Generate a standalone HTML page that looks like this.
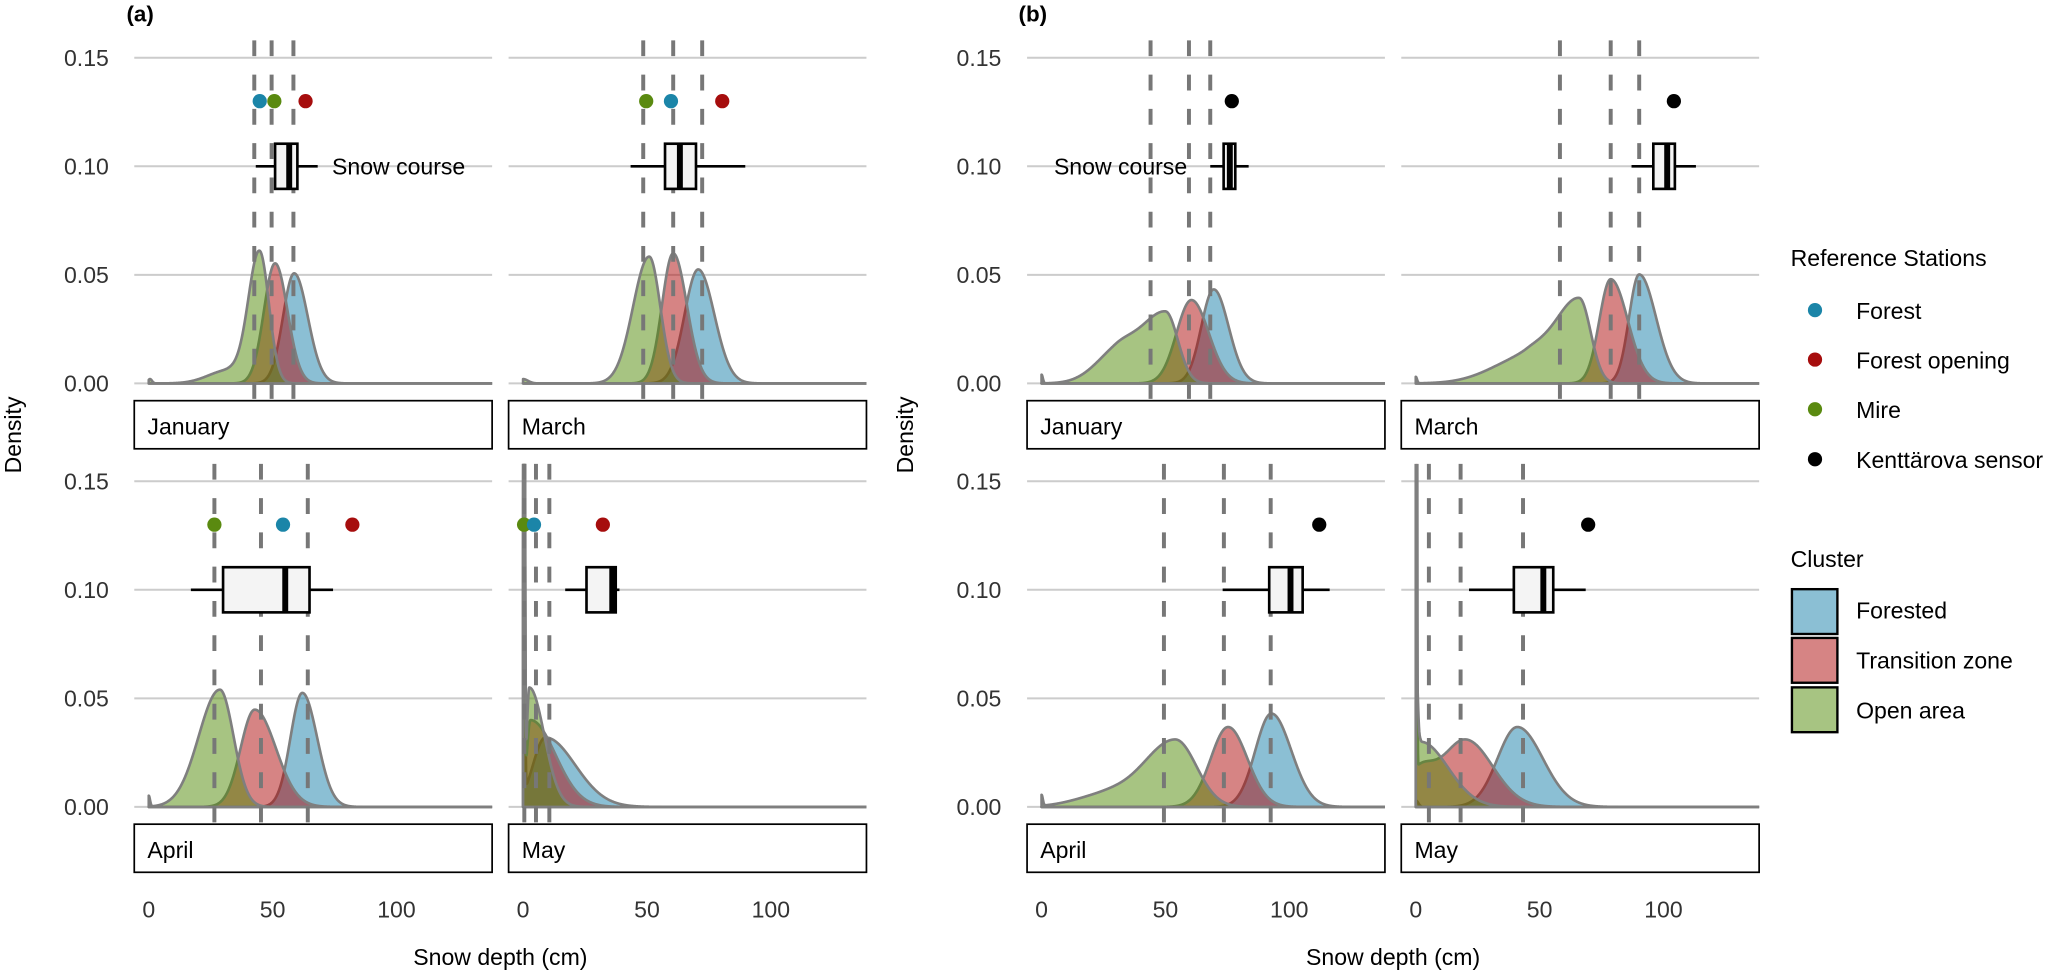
<!DOCTYPE html>
<html>
<head>
<meta charset="utf-8">
<style>
html,body{margin:0;padding:0;background:#fff;}
svg{display:block;font-family:"Liberation Sans",Arial,sans-serif;}
</style>
</head>
<body>
<svg id="chart" xmlns="http://www.w3.org/2000/svg" width="2066" height="978" viewBox="0 0 1568 742" preserveAspectRatio="none">
  <defs id="defs"></defs>
  <text x="96" y="16.5" font-size="17" font-weight="bold" fill="#000">(a)</text>
  <text x="773" y="16.5" font-size="17" font-weight="bold" fill="#000">(b)</text>
  <g id="plots"></g>
  <g id="legend">
    <text x="1359" y="202" font-size="17.5" fill="#000">Reference Stations</text>
    <circle cx="1377.5" cy="235.3" r="5.4" fill="#1b85a8"/>
    <text x="1408.7" y="242" font-size="17.5" fill="#000">Forest</text>
    <circle cx="1377.5" cy="272.8" r="5.4" fill="#a60d0d"/>
    <text x="1408.7" y="279.5" font-size="17.5" fill="#000">Forest opening</text>
    <circle cx="1377.5" cy="310.5" r="5.4" fill="#5a8a10"/>
    <text x="1408.7" y="317.2" font-size="17.5" fill="#000">Mire</text>
    <circle cx="1377.5" cy="348.4" r="5.4" fill="#000"/>
    <text x="1408.7" y="355.1" font-size="17.5" fill="#000">Kenttärova sensor</text>
    <text x="1359" y="430" font-size="17.5" fill="#000">Cluster</text>
    <rect x="1360" y="447" width="34.5" height="34" fill="#1780aa" fill-opacity="0.5" stroke="#000" stroke-width="1.8"/>
    <text x="1408.7" y="469.3" font-size="17.5" fill="#000">Forested</text>
    <rect x="1360" y="484" width="34.5" height="34" fill="#ad0a0a" fill-opacity="0.5" stroke="#000" stroke-width="1.8"/>
    <text x="1408.7" y="507.3" font-size="17.5" fill="#000">Transition zone</text>
    <rect x="1360" y="521.5" width="34.5" height="34" fill="#4f8a05" fill-opacity="0.5" stroke="#000" stroke-width="1.8"/>
    <text x="1408.7" y="545.2" font-size="17.5" fill="#000">Open area</text>
  </g>
</svg>
<script>
// ---------- data ----------
const months = ['January', 'March', 'April', 'May'];
const xTicks = [0, 50, 100];
const yTicks = [0, 0.05, 0.10, 0.15];
const yTickLabels = ['0.00', '0.05', '0.10', '0.15'];

// density components per month: [mode (cm), peak density, sd left, sd right]
const aForested = [
  [[58.7, 0.0507, 4.5, 5.5]],
  [[70.7, 0.0525, 5.5, 6.5]],
  [[62, 0.0525, 4.8, 6]],
  [[0.4, 0.25, 0.3, 0.3], [9, 0.032, 5, 12]]
];
const aTransition = [
  [[51, 0.0553, 4.5, 5]],
  [[60.6, 0.0599, 4.5, 5.5]],
  [[42.8, 0.0448, 5.7, 8.5]],
  [[0.4, 0.3, 0.3, 0.3], [3, 0.04, 1.5, 10]]
];
const aOpen = [
  [[44.7, 0.0605, 4.5, 3.8], [32, 0.006, 8, 6], [0.5, 0.002, 0.8, 0.8]],
  [[50.9, 0.0584, 6.5, 4.5], [0, 0.002, 2, 2]],
  [[28.7, 0.054, 8.5, 5.5], [0, 0.005, 0.5, 0.5]],
  [[0.4, 0.4, 0.3, 0.3], [2.5, 0.055, 1, 6]]
];
const bForested = [
  [[69.5, 0.0433, 5, 6]],
  [[90.2, 0.0502, 4.1, 6.8]],
  [[92.8, 0.043, 6.5, 8]],
  [[41, 0.0368, 8, 10.3], [0, 0.003, 1, 1]]
];
const bTransition = [
  [[60.5, 0.0384, 6, 7]],
  [[78.7, 0.048, 4.6, 6.9]],
  [[75.3, 0.0368, 7, 7.8]],
  [[0.3, 0.5, 0.2, 0.2], [1, 0.015, 2, 6], [20, 0.031, 9.6, 11]]
];
const bOpen = [
  [[50, 0.033, 11, 5], [30, 0.012, 9, 7], [0, 0.004, 0.5, 0.5]],
  [[66, 0.039, 10, 4.6], [45, 0.012, 14, 8], [0, 0.003, 0.5, 0.5]],
  [[54, 0.031, 13, 8.5], [25, 0.005, 12, 10], [0, 0.005, 0.5, 0.5]],
  [[0.3, 0.053, 0.5, 0.6], [2, 0.03, 1, 11]]
];
// cluster means (dashed lines)
const aMeans = [[42.6, 49.6, 58.4], [48.5, 60.6, 72.3], [26.5, 45.3, 64.2], [0.5, 5.2, 10.6]];
const bMeans = [[44, 59.5, 68.1], [58.2, 78.7, 90.2], [49.4, 73.6, 92.5], [5.3, 18.1, 43.3]];
// reference stations
const aMireDot = [50.7, 49.7, 26.5, 0.4];
const aForestDot = [44.8, 59.7, 54.2, 4.4];
const aOpeningDot = [63.3, 80.4, 82.2, 32.2];
const bSensorDot = [76.8, 104.2, 112.1, 69.6];
// snow course boxplots: [min, q1, median, q3, max]
const aBox = [[43.2, 51, 56.7, 60, 68.2], [43.4, 57.3, 63.3, 69.8, 89.7], [17, 30, 55.1, 64.9, 74.4], [17, 25.6, 36, 37.4, 38.9]];
const bBox = [[68.1, 73.5, 76, 78.2, 83.6], [87.1, 95.9, 101.5, 104.6, 113.1], [73.1, 91.9, 100.5, 105.4, 116.3], [21.5, 39.6, 51.5, 55.5, 68.6]];

// ---------- layout ----------
const NS = 'http://www.w3.org/2000/svg';
const FW = 271.6, PXCM = 1.88, X0OFF = 11, KY = 1647.3;
const rowY0 = [290.9, 612.2];
const XMAX = (FW - X0OFF) / PXCM;
const FILL = {F: '#1780aa', T: '#ad0a0a', O: '#4f8a05'};

function mk(tag, attrs, parent) {
  const el = document.createElementNS(NS, tag);
  for (const k in attrs) el.setAttribute(k, attrs[k]);
  parent.appendChild(el);
  return el;
}
function dens(comps, x) {
  let s = 0;
  for (const c of comps) {
    const sd = x < c[0] ? c[2] : c[3];
    const z = (x - c[0]) / sd;
    s += c[1] * Math.exp(-0.5 * z * z);
  }
  return s;
}

const plots = document.getElementById('plots');
const defs = document.getElementById('defs');

const panelDefs = [
  {id: 'a', lefts: [101.9, 386], F: aForested, T: aTransition, O: aOpen, means: aMeans, box: aBox, ylabX: 82.6, titleX: 10, label: 'start', labelX: 252},
  {id: 'b', lefts: [779.5, 1063.5], F: bForested, T: bTransition, O: bOpen, means: bMeans, box: bBox, ylabX: 760, titleX: 687, label: 'end', labelX: 901}
];

panelDefs.forEach(function (P) {
  const pg = mk('g', {}, plots);
  
  

  months.forEach(function (m, mi) {
    const col = mi % 2, row = Math.floor(mi / 2);
    const left = P.lefts[col];
    const y0 = rowY0[row];
    const X = function (v) { return left + X0OFF + v * PXCM; };
    const Y = function (d) { return y0 - d * KY; };
    const top = Y(0.158), bottom = Y(-0.0075);

    const fg = mk('g', {}, pg);
    
    

    const cpId = 'clip-' + P.id + '-' + mi;
    const cp = mk('clipPath', {id: cpId}, defs);
    mk('rect', {x: left, y: top, width: FW, height: bottom - top}, cp);

    // gridlines
    yTicks.forEach(function (t, ti) {
      const gl = mk('line', {x1: left, x2: left + FW, y1: Y(t), y2: Y(t), stroke: '#cccccc', 'stroke-width': 1.5}, fg);
      
      
    });

    // densities
    const cg = mk('g', {'clip-path': 'url(#' + cpId + ')'}, fg);
    [['F', 'forested'], ['T', 'transition-zone'], ['O', 'open-area']].forEach(function (c) {
      const comps = P[c[0]][mi];
      let d = 'M' + X(0).toFixed(2) + ',' + Y(0).toFixed(2);
      for (let x = 0; x <= XMAX + 0.001; x += 0.1) {
        const v = Math.min(dens(comps, x), 0.25);
        d += 'L' + X(x).toFixed(2) + ',' + Y(v).toFixed(2);
      }
      d += 'L' + X(XMAX).toFixed(2) + ',' + Y(0).toFixed(2) + 'Z';
      const p = mk('path', {d: d, fill: FILL[c[0]], 'fill-opacity': 0.5, stroke: '#7f7f7f', 'stroke-width': 2, 'stroke-linejoin': 'round'}, cg);
      
      
    });

    // mean dashed lines
    P.means[mi].forEach(function (v, vi) {
      const dl = mk('line', {x1: X(v), x2: X(v), y1: top, y2: bottom, stroke: '#777777', 'stroke-width': 3, 'stroke-dasharray': '12 14'}, fg);
      
      
    });

    // boxplot
    const b = P.box[mi];
    const by = Y(0.10), bh = 0.0104 * KY;
    const bg = mk('g', {}, fg);
    
    
    mk('line', {x1: X(b[0]), x2: X(b[1]), y1: by, y2: by, stroke: '#000', 'stroke-width': 2}, bg);
    mk('line', {x1: X(b[3]), x2: X(b[4]), y1: by, y2: by, stroke: '#000', 'stroke-width': 2}, bg);
    mk('rect', {x: X(b[1]), y: by - bh, width: X(b[3]) - X(b[1]), height: 2 * bh, fill: '#f4f4f4', stroke: '#000', 'stroke-width': 2}, bg);
    mk('line', {x1: X(b[2]), x2: X(b[2]), y1: by - bh, y2: by + bh, stroke: '#000', 'stroke-width': 4.5}, bg);

    if (mi === 0) {
      const sl = mk('text', {x: P.labelX, y: by + 6.3, 'font-size': 17.5, fill: '#000', 'text-anchor': P.label}, fg);
      sl.textContent = 'Snow course';
      
      
    }

    // station points
    const dy = Y(0.13);
    if (P.id === 'a') {
      [[aMireDot, '#5a8a10', 'mire'], [aForestDot, '#1b85a8', 'forest'], [aOpeningDot, '#a60d0d', 'forest-opening']].forEach(function (s) {
        const c = mk('circle', {cx: X(s[0][mi]), cy: dy, r: 5.4, fill: s[1]}, fg);
        
        
      });
    } else {
      const c = mk('circle', {cx: X(bSensorDot[mi]), cy: dy, r: 5.4, fill: '#000'}, fg);
      
      
    }

    // strip
    const sy = y0 + 13.1;
    const st = mk('rect', {x: left, y: sy, width: FW, height: 36.5, fill: '#fff', stroke: '#000', 'stroke-width': 1.3}, fg);
    
    
    const stt = mk('text', {x: left + 10, y: sy + 25.5, 'font-size': 17.5, fill: '#000'}, fg);
    stt.textContent = m;
    
    

    // y tick labels
    if (col === 0) {
      yTicks.forEach(function (t, ti) {
        const tl = mk('text', {x: P.ylabX, y: Y(t) + 6.3, 'font-size': 17.5, fill: '#333', 'text-anchor': 'end'}, fg);
        tl.textContent = yTickLabels[ti];
        
        
      });
    }
    // x tick labels
    if (row === 1) {
      xTicks.forEach(function (t) {
        const tl = mk('text', {x: X(t), y: 696, 'font-size': 17.5, fill: '#333', 'text-anchor': 'middle'}, fg);
        tl.textContent = String(t);
        
        
      });
    }
  });

  // axis titles
  const yt = mk('text', {x: 0, y: 0, 'font-size': 17.5, fill: '#000', 'text-anchor': 'middle', transform: 'translate(' + (P.titleX + 6) + ',330) rotate(-90)'}, pg);
  yt.textContent = 'Density';
  
  
  const xt = mk('text', {x: P.lefts[0] + (P.lefts[1] + FW - P.lefts[0]) / 2, y: 732, 'font-size': 17.5, fill: '#000', 'text-anchor': 'middle'}, pg);
  xt.textContent = 'Snow depth (cm)';
  
  
});
</script>
</body>
</html>
